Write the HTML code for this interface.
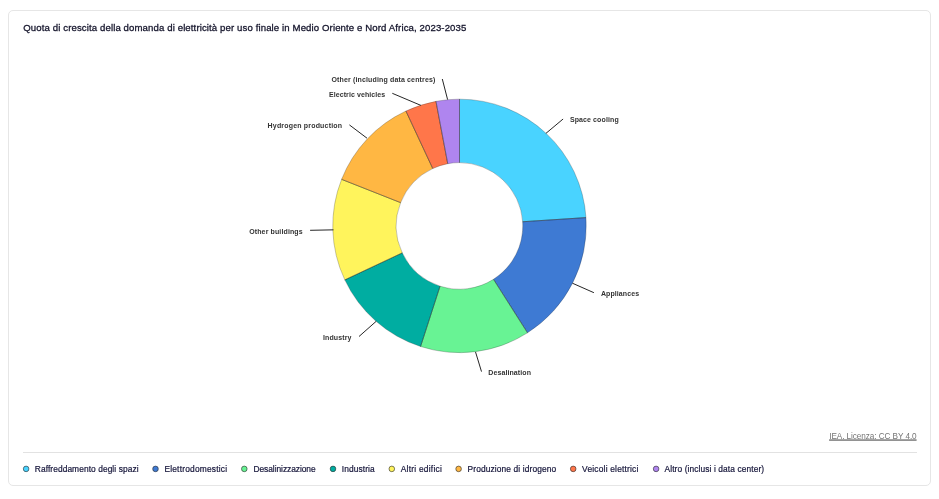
<!DOCTYPE html>
<html lang="it"><head><meta charset="utf-8"><title>Quota di crescita della domanda di elettricità</title>
<style>
html,body{margin:0;padding:0;background:#fff;}
body{width:939px;height:499px;position:relative;overflow:hidden;font-family:"Liberation Sans",sans-serif;}
.card{position:absolute;left:8px;top:10px;width:921px;height:474px;border:1px solid #e6e6e6;border-radius:5px;background:#fff;}
.sep{position:absolute;left:23px;top:452px;width:894px;height:1px;background:#e2e2e2;}
svg{position:absolute;left:0;top:0;}
.t{position:absolute;white-space:nowrap;line-height:0;height:0;display:block;}
.ti{color:#14142b;font-weight:400;-webkit-text-stroke:0.28px #14142b;}
.lb{color:#333;font-weight:700;}
.lg{color:#15153a;font-weight:400;-webkit-text-stroke:0.2px #15153a;}
.lic{color:#757575;text-decoration:none;}
</style></head><body>
<div class="card"></div>
<div class="sep"></div>

<svg width="939" height="499" viewBox="0 0 939 499"><g stroke="#222" stroke-opacity="0.42" stroke-width="0.6" stroke-linejoin="round">
<path d="M459.50 99.15A126.75 126.75 0 0 1 585.98 217.61L522.66 221.76A63.3 63.3 0 0 0 459.50 162.60Z" fill="#49d3ff"/>
<path d="M585.98 217.61A126.75 126.75 0 0 1 527.51 332.86L493.46 279.32A63.3 63.3 0 0 0 522.66 221.76Z" fill="#3e7ad3"/>
<path d="M527.51 332.86A126.75 126.75 0 0 1 420.54 346.51L440.04 286.14A63.3 63.3 0 0 0 493.46 279.32Z" fill="#68f394"/>
<path d="M420.54 346.51A126.75 126.75 0 0 1 344.81 279.87L402.22 252.85A63.3 63.3 0 0 0 440.04 286.14Z" fill="#00ada1"/>
<path d="M344.81 279.87A126.75 126.75 0 0 1 341.61 179.34L400.62 202.65A63.3 63.3 0 0 0 402.22 252.85Z" fill="#fff45c"/>
<path d="M341.61 179.34A126.75 126.75 0 0 1 405.93 111.03L432.75 168.53A63.3 63.3 0 0 0 400.62 202.65Z" fill="#ffb743"/>
<path d="M405.93 111.03A126.75 126.75 0 0 1 435.97 101.35L447.75 163.70A63.3 63.3 0 0 0 432.75 168.53Z" fill="#ff764a"/>
<path d="M435.97 101.35A126.75 126.75 0 0 1 459.50 99.15L459.50 162.60A63.3 63.3 0 0 0 447.75 163.70Z" fill="#af85ef"/>
<path d="M459.50 99.15L459.50 162.60" stroke-opacity="0.45" stroke-width="0.7"/>
<path d="M585.98 217.61L522.66 221.76" stroke-opacity="0.45" stroke-width="0.7"/>
<path d="M527.51 332.86L493.46 279.32" stroke-opacity="0.45" stroke-width="0.7"/>
<path d="M420.54 346.51L440.04 286.14" stroke-opacity="0.45" stroke-width="0.7"/>
<path d="M344.81 279.87L402.22 252.85" stroke-opacity="0.45" stroke-width="0.7"/>
<path d="M341.61 179.34L400.62 202.65" stroke-opacity="0.45" stroke-width="0.7"/>
<path d="M405.93 111.03L432.75 168.53" stroke-opacity="0.45" stroke-width="0.7"/>
<path d="M435.97 101.35L447.75 163.70" stroke-opacity="0.45" stroke-width="0.7"/>
</g><g stroke="#262626" stroke-width="1" fill="none">
<path d="M563.1 119.0L545.9 133.4"/>
<path d="M593.9 292.7L572.4 283.2"/>
<path d="M481.5 371.6L475.5 351.9"/>
<path d="M359.0 336.5L376.3 321.2"/>
<path d="M310.1 230.3L333.5 229.85"/>
<path d="M349.4 124.9L367.0 138.2"/>
<path d="M392.3 93.3L420.9 105.4"/>
<path d="M442.3 79.0L447.6 99.6"/>
</g><g stroke="#2a2a2a" stroke-opacity="0.75" stroke-width="0.8"><circle cx="26.10" cy="468.9" r="2.8" fill="#49d3ff"/>
<circle cx="155.50" cy="468.9" r="2.8" fill="#3e7ad3"/>
<circle cx="244.30" cy="468.9" r="2.8" fill="#68f394"/>
<circle cx="333.00" cy="468.9" r="2.8" fill="#00ada1"/>
<circle cx="391.80" cy="468.9" r="2.8" fill="#fff45c"/>
<circle cx="458.60" cy="468.9" r="2.8" fill="#ffb743"/>
<circle cx="573.20" cy="468.9" r="2.8" fill="#ff764a"/>
<circle cx="656.10" cy="468.9" r="2.8" fill="#af85ef"/></g><path d="M829.1 440.05H916.6" stroke="#3a3a3a" stroke-width="1"/></svg>
<span class="t ti" id="title" style="left:23.30px;top:28px;font-size:9.6px;letter-spacing:0.114px;">Quota di crescita della domanda di elettricità per uso finale in Medio Oriente e Nord Africa, 2023-2035</span>
<span class="t lb" id="lb0" style="left:569.90px;top:120px;font-size:7.0px;letter-spacing:0.110px;">Space cooling</span>
<span class="t lb" id="lb1" style="left:600.90px;top:294px;font-size:7.0px;letter-spacing:0.094px;">Appliances</span>
<span class="t lb" id="lb2" style="left:488.30px;top:373px;font-size:7.0px;letter-spacing:0.090px;">Desalination</span>
<span class="t lb" id="lb3" style="left:323.00px;top:338px;font-size:7.0px;letter-spacing:0.109px;">Industry</span>
<span class="t lb" id="lb4" style="left:249.20px;top:232px;font-size:7.0px;letter-spacing:0.124px;">Other buildings</span>
<span class="t lb" id="lb5" style="left:267.60px;top:126px;font-size:7.0px;letter-spacing:0.180px;">Hydrogen production</span>
<span class="t lb" id="lb6" style="left:329.00px;top:95px;font-size:7.0px;letter-spacing:0.078px;">Electric vehicles</span>
<span class="t lb" id="lb7" style="left:331.50px;top:80px;font-size:7.0px;letter-spacing:0.147px;">Other (including data centres)</span>
<span class="t lg" id="lg0" style="left:34.80px;top:469px;font-size:8.4px;letter-spacing:0.076px;">Raffreddamento degli spazi</span>
<span class="t lg" id="lg1" style="left:164.40px;top:469px;font-size:8.4px;letter-spacing:0.208px;">Elettrodomestici</span>
<span class="t lg" id="lg2" style="left:253.50px;top:469px;font-size:8.4px;letter-spacing:-0.047px;">Desalinizzazione</span>
<span class="t lg" id="lg3" style="left:341.70px;top:469px;font-size:8.4px;letter-spacing:0.119px;">Industria</span>
<span class="t lg" id="lg4" style="left:400.70px;top:469px;font-size:8.4px;letter-spacing:0.248px;">Altri edifici</span>
<span class="t lg" id="lg5" style="left:467.60px;top:469px;font-size:8.4px;letter-spacing:0.116px;">Produzione di idrogeno</span>
<span class="t lg" id="lg6" style="left:582.10px;top:469px;font-size:8.4px;letter-spacing:0.201px;">Veicoli elettrici</span>
<span class="t lg" id="lg7" style="left:664.50px;top:469px;font-size:8.4px;letter-spacing:0.099px;">Altro (inclusi i data center)</span>
<span class="t lic" id="lic" style="left:829.20px;top:437px;font-size:8.2px;letter-spacing:-0.072px;">IEA. Licenza: CC BY 4.0</span>
</body></html>
